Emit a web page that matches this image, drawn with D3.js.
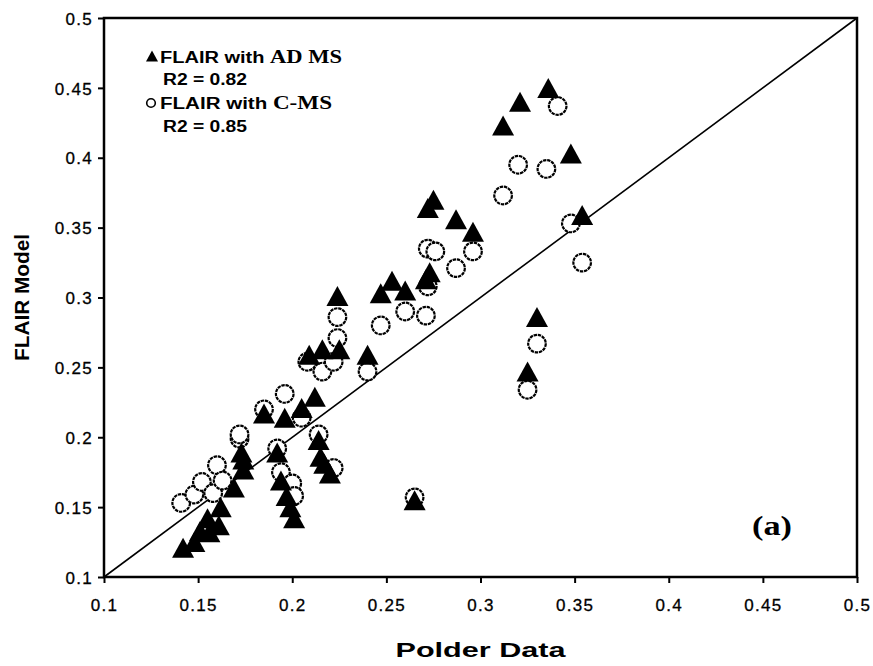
<!DOCTYPE html>
<html>
<head>
<meta charset="utf-8">
<script src="https://cdn.jsdelivr.net/npm/d3@7"></script>
<style>
  html, body { margin: 0; padding: 0; background: #fff; }
  svg { display: block; }
</style>
</head>
<body>
<svg id="chart" width="873" height="666"></svg>
<script>
// ---- data ----
const xTicks = [0.1, 0.15, 0.2, 0.25, 0.3, 0.35, 0.4, 0.45, 0.5];
const yTicks = [0.1, 0.15, 0.2, 0.25, 0.3, 0.35, 0.4, 0.45, 0.5];

// FLAIR with AD MS (filled triangles)
const adX = [0.142,0.148,0.151,0.156,0.155,0.161,0.162,0.169,0.174,0.174,0.173,0.185,0.196,0.205,0.212,
             0.192,0.194,0.197,0.199,0.201,0.214,0.215,0.217,0.220,0.265,0.209,0.216,0.225,0.240,0.224,
             0.247,0.253,0.260,0.271,0.273,0.272,0.275,0.287,0.296,0.312,0.321,0.336,0.348,0.354,0.330,0.325];
const adY = [0.121,0.125,0.133,0.132,0.142,0.137,0.150,0.164,0.177,0.184,0.189,0.217,0.214,0.221,0.229,
             0.189,0.169,0.158,0.150,0.142,0.198,0.186,0.181,0.174,0.155,0.259,0.263,0.263,0.259,0.301,
             0.303,0.312,0.305,0.313,0.318,0.364,0.370,0.356,0.347,0.423,0.440,0.450,0.403,0.359,0.286,0.247];

// FLAIR with C-MS (open circles)
const cmX = [0.141,0.148,0.152,0.158,0.160,0.163,0.172,0.172,0.185,0.196,0.205,0.192,0.194,0.200,0.201,
             0.214,0.222,0.265,0.208,0.216,0.222,0.240,0.224,0.224,0.247,0.260,0.271,0.272,0.272,0.276,
             0.287,0.296,0.312,0.320,0.335,0.341,0.348,0.354,0.330,0.325];
const cmY = [0.153,0.159,0.168,0.160,0.180,0.169,0.199,0.202,0.220,0.231,0.214,0.192,0.175,0.167,0.158,
             0.202,0.178,0.157,0.254,0.247,0.254,0.247,0.286,0.271,0.280,0.290,0.287,0.308,0.335,0.333,
             0.321,0.333,0.373,0.395,0.392,0.437,0.353,0.325,0.267,0.234];

const legendLabels = [
  {sans: "FLAIR with ", serif: "AD MS", r2: "R2 = 0.82"},
  {sans: "FLAIR with ", serif: "C-MS", r2: "R2 = 0.85"}
];
const xTitle = "Polder Data";
const yTitle = "FLAIR Model";
const panelLabel = "(a)";

// ---- layout ----
const svg = d3.select("#chart");
svg.append("rect").attr("width", 873).attr("height", 666).attr("fill", "#fff");

const pLeft = 104, pRight = 857, pTop = 18, pBottom = 577;
const x = d3.scaleLinear().domain([0.1, 0.5]).range([pLeft, pRight]);
const y = d3.scaleLinear().domain([0.1, 0.5]).range([pBottom, pTop]);

const sans = "'Liberation Sans', Arial, sans-serif";
const serif = "'Liberation Serif', 'Times New Roman', serif";

// 1:1 line
svg.append("line")
  .attr("x1", x(0.1)).attr("y1", y(0.1))
  .attr("x2", x(0.5)).attr("y2", y(0.5))
  .attr("stroke", "#000").attr("stroke-width", 1.6);

const tri = (w, h) => `M0,${-h/2}L${w/2},${h/2}L${-w/2},${h/2}Z`;

// circles
svg.append("g").selectAll("circle")
  .data(cmX.map((v, i) => [v, cmY[i]]))
  .join("circle")
  .attr("cx", d => x(d[0])).attr("cy", d => y(d[1]))
  .attr("r", 8.8)
  .attr("fill", "#fff").attr("stroke", "#000").attr("stroke-width", 2.2)
  .attr("stroke-dasharray", "3.4,0.8");

// triangles
svg.append("g").selectAll("path")
  .data(adX.map((v, i) => [v, adY[i]]))
  .join("path")
  .attr("transform", d => `translate(${x(d[0])},${y(d[1])})`)
  .attr("d", tri(22, 20))
  .attr("fill", "#000");

// axes
const xAxis = d3.axisBottom(x).tickValues(xTicks).tickSize(6).tickFormat(d3.format("~g"));
const yAxis = d3.axisLeft(y).tickValues(yTicks).tickSize(6).tickFormat(d3.format("~g"));

const gx = svg.append("g").attr("transform", `translate(0,${pBottom})`).call(xAxis);
const gy = svg.append("g").attr("transform", `translate(${pLeft},0)`).call(yAxis);
[gx, gy].forEach(g => {
  g.select(".domain").remove();
  g.selectAll(".tick line").attr("stroke", "#000").attr("stroke-width", 2);
  g.selectAll(".tick text")
    .attr("fill", "#000")
    .attr("stroke", "#000").attr("stroke-width", 0.3)
    .style("font-family", sans)
    .style("font-size", "17px")
    .style("letter-spacing", "1.3px");
});
gx.selectAll(".tick text").attr("dy", null).attr("y", 34);
gy.selectAll(".tick text").attr("x", -11).attr("dy", "0.36em");

// frame
svg.append("rect")
  .attr("x", pLeft).attr("y", pTop)
  .attr("width", pRight - pLeft).attr("height", pBottom - pTop)
  .attr("fill", "none").attr("stroke", "#000").attr("stroke-width", 2.5);

// axis titles
svg.append("text")
  .attr("x", (pLeft + pRight) / 2).attr("y", 657)
  .attr("text-anchor", "middle")
  .style("font-family", sans).style("font-weight", "bold").style("font-size", "20px")
  .attr("textLength", 170).attr("lengthAdjust", "spacingAndGlyphs")
  .text(xTitle);

svg.append("text")
  .attr("transform", `translate(29,${(pTop + pBottom) / 2}) rotate(-90)`)
  .attr("text-anchor", "middle")
  .style("font-family", sans).style("font-weight", "bold").style("font-size", "20px")
  .attr("textLength", 127).attr("lengthAdjust", "spacingAndGlyphs")
  .text(yTitle);

// legend
const lg = svg.append("g");
lg.append("path").attr("transform", "translate(152,56)").attr("d", tri(12, 11)).attr("fill", "#000");
lg.append("circle").attr("cx", 151).attr("cy", 103).attr("r", 4.3)
  .attr("fill", "#fff").attr("stroke", "#000").attr("stroke-width", 1.6);

const rows = [[63, 85], [109, 132]];
legendLabels.forEach((lab, i) => {
  const t = lg.append("text").attr("x", 160).attr("y", rows[i][0])
    .attr("textLength", i === 0 ? 182 : 172).attr("lengthAdjust", "spacingAndGlyphs");
  t.append("tspan").style("font-family", sans).style("font-weight", "bold").style("font-size", "16px").text(lab.sans);
  t.append("tspan").style("font-family", serif).style("font-weight", "bold").style("font-size", "18px").text(lab.serif);
  lg.append("text").attr("x", 163).attr("y", rows[i][1])
    .attr("textLength", 84).attr("lengthAdjust", "spacingAndGlyphs")
    .style("font-family", sans).style("font-weight", "bold").style("font-size", "16px")
    .text(lab.r2);
});

// panel label
svg.append("text")
  .attr("x", 752).attr("y", 535)
  .attr("textLength", 40).attr("lengthAdjust", "spacingAndGlyphs")
  .style("font-family", serif).style("font-weight", "bold").style("font-size", "28px")
  .text(panelLabel);
</script>
</body>
</html>
